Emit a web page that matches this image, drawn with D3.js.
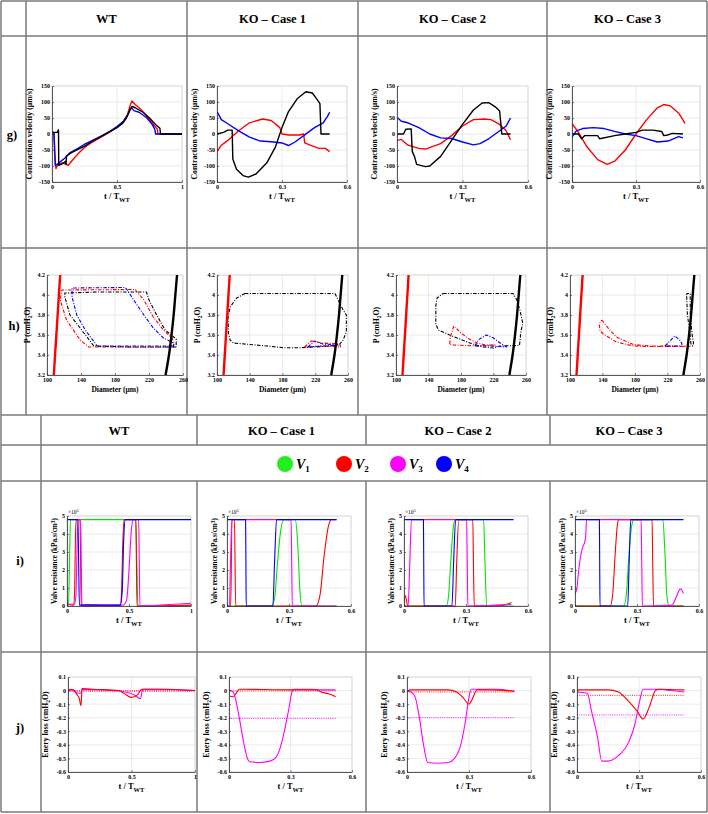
<!DOCTYPE html>
<html>
<head>
<meta charset="utf-8">
<script src="https://cdn.jsdelivr.net/npm/d3@7"></script>
<style>
  body { margin: 0; background: #fff; }
  text { font-family: "Liberation Serif", "Times New Roman", serif; font-weight: bold; }
</style>
</head>
<body>
<svg id="fig" width="708" height="814"></svg>
<script>
// ---------- labels / ticks ----------
var cases = ["WT", "KO – Case 1", "KO – Case 2", "KO – Case 3"];
var rowNames = ["g)", "h)", "i)", "j)"];
var valveNames = ["1", "2", "3", "4"];
var valveColors = ["#22ee22", "#ff0000", "#ff00ff", "#0000ff"];
var tTicksWT = [0, 0.5, 1];
var tTicksKO = [0, 0.3, 0.6];
var velTicks = [-150, -100, -50, 0, 50, 100, 150];
var diamTicks = [100, 140, 180, 220, 260];
var pTicks = [3.2, 3.4, 3.6, 3.8, 4, 4.2];
var resTicks = [0, 1, 2, 3, 4, 5];
var lossTicks = [-0.6, -0.5, -0.4, -0.3, -0.2, -0.1, 0, 0.1];

// ---------- g) contraction velocity (um/s) vs t/T_WT ----------
var velWT_red = [[0,0],[0.015,2],[0.02,-60],[0.03,-108],[0.04,-100],[0.05,-95],[0.08,-90],[0.1,-93],[0.125,-98],[0.15,-85],[0.2,-62],[0.25,-42],[0.3,-28],[0.35,-16],[0.4,-4],[0.45,8],[0.5,22],[0.55,40],[0.58,60],[0.6,88],[0.615,103],[0.64,92],[0.68,78],[0.72,60],[0.76,40],[0.8,20],[0.81,15],[0.815,0],[1,0]];
var velWT_blue = [[0,5],[0.015,5],[0.02,-40],[0.025,-98],[0.04,-95],[0.06,-88],[0.1,-75],[0.14,-58],[0.2,-45],[0.25,-32],[0.3,-22],[0.35,-12],[0.4,-2],[0.45,10],[0.5,23],[0.55,40],[0.58,58],[0.6,76],[0.61,82],[0.63,73],[0.67,68],[0.73,50],[0.77,30],[0.79,15],[0.797,0],[1,0]];
var velWT_black = [[0,5],[0.04,5],[0.05,13],[0.052,-98],[0.07,-95],[0.09,-90],[0.105,-85],[0.108,-95],[0.112,-68],[0.15,-58],[0.2,-48],[0.25,-38],[0.3,-25],[0.35,-14],[0.4,-3],[0.45,8],[0.5,20],[0.54,32],[0.57,48],[0.6,75],[0.615,86],[0.64,82],[0.7,68],[0.75,50],[0.8,28],[0.83,18],[0.835,0],[1,0]];

var velKO1_red = [[0,-55],[0.02,-35],[0.05,-20],[0.1,10],[0.15,35],[0.21,47],[0.25,42],[0.29,20],[0.3,0],[0.33,-3],[0.38,-3],[0.4,0],[0.405,-28],[0.43,-35],[0.47,-45],[0.5,-45],[0.52,-55]];
var velKO1_blue = [[0,70],[0.02,45],[0.05,32],[0.1,10],[0.15,-10],[0.2,-22],[0.25,-24],[0.3,-28],[0.33,-36],[0.36,-25],[0.4,-5],[0.45,20],[0.49,35],[0.51,55],[0.52,68]];
var velKO1_black = [[0,0],[0.03,5],[0.05,12],[0.07,12],[0.073,-78],[0.09,-110],[0.12,-130],[0.145,-135],[0.18,-125],[0.23,-90],[0.27,-40],[0.3,20],[0.33,70],[0.37,110],[0.41,132],[0.44,128],[0.46,110],[0.475,95],[0.48,0],[0.52,0]];

var velKO2_red = [[0,-20],[0.02,-17],[0.05,-35],[0.1,-45],[0.13,-47],[0.2,-30],[0.25,-5],[0.3,25],[0.35,45],[0.4,47],[0.43,45],[0.47,30],[0.5,10],[0.52,-18]];
var velKO2_blue = [[0,52],[0.02,40],[0.05,35],[0.1,20],[0.15,0],[0.2,-12],[0.25,-14],[0.3,-25],[0.35,-34],[0.38,-30],[0.42,-15],[0.45,0],[0.48,15],[0.5,25],[0.52,50]];
var velKO2_black = [[0,0],[0.03,0],[0.04,15],[0.065,16],[0.07,-55],[0.08,-70],[0.09,-95],[0.13,-102],[0.15,-100],[0.2,-70],[0.25,-20],[0.3,30],[0.35,75],[0.39,97],[0.42,98],[0.45,85],[0.47,72],[0.48,0],[0.52,0]];

var velKO3_red = [[0,33],[0.03,5],[0.07,-40],[0.12,-80],[0.165,-95],[0.2,-85],[0.25,-50],[0.3,0],[0.35,45],[0.4,82],[0.43,92],[0.46,88],[0.5,65],[0.53,33]];
var velKO3_blue = [[0,-10],[0.02,10],[0.05,17],[0.1,20],[0.15,17],[0.2,8],[0.25,0],[0.3,-5],[0.35,-15],[0.4,-25],[0.45,-22],[0.5,-8],[0.52,-12]];
var velKO3_black = [[0,0],[0.03,0],[0.045,-15],[0.06,-5],[0.12,-5],[0.13,-15],[0.2,-5],[0.25,0],[0.3,5],[0.33,12],[0.38,12],[0.42,8],[0.43,-5],[0.45,-3],[0.47,2],[0.52,0]];

// ---------- h) P (cmH2O) vs diameter (um) ----------
var isoRed = [[108,3.2],[115.5,4.2]];
var isoBlack = [[239.5,3.2],[243.5,3.4],[246.5,3.6],[249,3.8],[251,4.0],[253,4.2]];

var loopWT_black = [[252,3.48],[200,3.48],[155,3.49],[139,3.67],[127,3.8],[121,3.98],[121,4.02],[160,4.03],[217,4.03],[220,3.95],[229,3.8],[239,3.65],[249,3.58],[252,3.56],[252,3.48]];
var loopWT_red = [[249,3.48],[149,3.48],[139,3.55],[123,3.75],[115.5,3.95],[117.5,4.05],[204,4.055],[205,4.04],[214,3.95],[225,3.78],[237,3.65],[247,3.57],[249,3.53],[249,3.48]];
var loopWT_blue = [[249,3.49],[159,3.49],[145,3.65],[135,3.8],[129.5,3.98],[129.5,4.07],[192,4.075],[194,4.055],[202,3.95],[214,3.8],[225,3.67],[237,3.57],[249,3.52],[249,3.49]];

var loopKO1_black = [[134,4.015],[244,4.015],[248,3.95],[254,3.85],[258,3.8],[258,3.63],[254,3.55],[250,3.51],[242,3.49],[201,3.473],[181,3.473],[161,3.49],[120,3.52],[116,3.55],[114,3.62],[113.5,3.78],[116,3.88],[124,3.97],[134,4.015]];
var loopKO1_red = [[207,3.48],[215,3.54],[228,3.52],[250,3.51],[251,3.48],[230,3.49],[207,3.48]];
var loopKO1_blue = [[211,3.48],[219,3.54],[229,3.51],[248,3.5],[230,3.49],[211,3.48]];

var loopKO2_black = [[158,4.015],[244,4.015],[248.5,3.955],[252.5,3.85],[256,3.72],[253.5,3.62],[252,3.495],[228,3.49],[220,3.47],[207.5,3.48],[191,3.52],[166,3.6],[152,3.65],[149,3.71],[149,3.89],[150.5,3.97],[158,4.015]];
var loopKO2_red = [[166,3.51],[167,3.58],[171,3.69],[180,3.62],[190,3.56],[200,3.52],[210,3.5],[222,3.5],[200,3.49],[170,3.5],[166,3.51]];
var loopKO2_blue = [[197,3.49],[201,3.55],[211,3.6],[220,3.57],[228,3.52],[236,3.48],[215,3.49],[197,3.49]];

var loopKO3_black = [[243.5,4.0],[244,4.015],[248,4.015],[248,3.8],[250,3.62],[252,3.52],[251,3.49],[249,3.5],[247,3.66],[244.5,3.8],[243.5,4.0]];
var loopKO3_red = [[139,3.75],[148,3.66],[157,3.58],[178,3.505],[198,3.49],[248,3.487],[200,3.485],[178,3.49],[157,3.53],[141,3.61],[137,3.64],[136,3.71],[139,3.75]];
var loopKO3_blue = [[217,3.49],[223,3.54],[229,3.59],[235,3.55],[238,3.51],[235,3.49],[217,3.49]];

// ---------- i) valve resistance (x10^5 kPa.s/cm^3) ----------
var resWT_green = [[0,0],[0.012,0],[0.02,2.4],[0.028,4.8],[0.555,4.8],[0.563,2.4],[0.572,0],[1,0]];
var resWT_red = [[0,0.1],[0.055,0.05],[0.062,1],[0.068,3.8],[0.075,4.8],[0.105,4.8],[0.11,2.4],[0.115,0],[0.43,0.02],[0.44,0.8],[0.45,3.5],[0.46,4.8],[0.555,4.8],[0.56,2.4],[0.565,0],[1,0.05]];
var resWT_magenta = [[0,0.25],[0.01,0.1],[0.06,0.1],[0.072,0.6],[0.082,3.5],[0.09,4.8],[0.11,4.8],[0.115,2.4],[0.12,0.1],[0.45,0.05],[0.48,0.3],[0.5,2],[0.52,4.3],[0.535,4.8],[0.578,4.8],[0.583,2.4],[0.588,0],[0.7,0.03],[1,0.15]];
var resWT_blue = [[0,4.8],[0.088,4.8],[0.094,2.4],[0.1,0.05],[0.43,0.05],[0.445,0.8],[0.458,3.8],[0.47,4.8],[1,4.8]];

var resKO1_green = [[0,0],[0.215,0],[0.23,0.4],[0.245,2.5],[0.26,4.2],[0.275,4.8],[0.33,4.8],[0.342,3.5],[0.352,1],[0.362,0],[0.53,0]];
var resKO1_red = [[0,0],[0.018,0],[0.024,4.8],[0.036,4.8],[0.042,0],[0.43,0],[0.45,0.6],[0.47,2.8],[0.49,4.4],[0.505,4.8],[0.53,4.8]];
var resKO1_magenta = [[0,0],[0.012,0],[0.016,2],[0.024,4.8],[0.31,4.8],[0.313,2.4],[0.316,0],[0.53,0]];
var resKO1_blue = [[0,4.8],[0.09,4.8],[0.0915,2.4],[0.093,0],[0.222,0],[0.23,2.4],[0.24,4.8],[0.53,4.8]];

var resKO2_green = [[0,0],[0.205,0],[0.215,0.5],[0.228,2.8],[0.24,4.5],[0.25,4.8],[0.385,4.8],[0.392,2.4],[0.4,0],[0.53,0]];
var resKO2_red = [[0,0.2],[0.006,0.6],[0.012,0.3],[0.018,0],[0.248,0],[0.255,2.4],[0.265,4.8],[0.333,4.8],[0.336,2.4],[0.34,0],[0.48,0.05],[0.52,0.2]];
var resKO2_magenta = [[0,0],[0.02,0],[0.027,2],[0.036,4.8],[0.303,4.8],[0.306,2.4],[0.309,0],[0.45,0.05],[0.52,0.1]];
var resKO2_blue = [[0,4.8],[0.094,4.8],[0.0955,2.4],[0.097,0],[0.232,0],[0.24,2.4],[0.25,4.8],[0.53,4.8]];

var resKO3_green = [[0,0],[0.235,0],[0.248,0.6],[0.262,3],[0.275,4.5],[0.285,4.8],[0.425,4.8],[0.435,3],[0.445,0.5],[0.455,0],[0.525,0]];
var resKO3_red = [[0,0],[0.17,0],[0.182,0.6],[0.195,3],[0.205,4.5],[0.212,4.8],[0.373,4.8],[0.376,2.4],[0.38,0],[0.525,0]];
var resKO3_magenta = [[0,0.7],[0.008,0.9],[0.018,2],[0.025,2.6],[0.035,3.2],[0.048,3.6],[0.052,3.9],[0.056,4.8],[0.32,4.8],[0.323,2.4],[0.326,0],[0.47,0.05],[0.49,0.5],[0.51,0.95],[0.525,0.7]];
var resKO3_blue = [[0,4.8],[0.118,4.8],[0.1195,2.4],[0.121,0],[0.255,0],[0.262,2.4],[0.27,4.8],[0.525,4.8]];

// ---------- j) energy loss (cmH2O) ----------
var lossWT_red = [[0,0],[0.02,0.01],[0.04,0.005],[0.07,-0.03],[0.09,-0.06],[0.1,-0.11],[0.105,-0.08],[0.11,0.015],[0.2,0.01],[0.4,0],[0.44,-0.02],[0.5,-0.05],[0.55,-0.03],[0.58,0.01],[0.7,0.01],[1,0]];
var lossWT_magenta = [[0,0],[0.04,0.005],[0.08,-0.02],[0.1,-0.02],[0.11,0.01],[0.3,0.005],[0.45,-0.01],[0.52,-0.03],[0.57,-0.06],[0.59,0.01],[0.75,0.01],[1,0]];
var lossKO1_red = [[0,-0.04],[0.02,-0.045],[0.035,-0.02],[0.05,0.01],[0.3,0.005],[0.42,0.005],[0.46,-0.015],[0.5,-0.03],[0.52,-0.045]];
var lossKO1_magenta = [[0,0.005],[0.02,-0.01],[0.03,-0.05],[0.05,-0.2],[0.07,-0.37],[0.09,-0.5],[0.1,-0.525],[0.15,-0.53],[0.2,-0.52],[0.23,-0.49],[0.25,-0.42],[0.27,-0.3],[0.29,-0.15],[0.31,0],[0.32,0.01],[0.4,0.01],[0.45,0.005],[0.52,0.005]];
var lossKO2_red = [[0,-0.005],[0.02,0.005],[0.2,0.005],[0.24,-0.01],[0.27,-0.05],[0.3,-0.1],[0.31,-0.08],[0.34,0.005],[0.4,0.005],[0.52,-0.005]];
var lossKO2_magenta = [[0,0],[0.02,-0.01],[0.04,-0.05],[0.06,-0.2],[0.08,-0.4],[0.1,-0.53],[0.15,-0.535],[0.2,-0.53],[0.23,-0.5],[0.26,-0.4],[0.28,-0.25],[0.3,-0.05],[0.31,0.01],[0.43,0.01],[0.52,-0.005]];
var lossKO3_red = [[0,0.005],[0.15,0.005],[0.2,-0.01],[0.25,-0.08],[0.29,-0.15],[0.32,-0.21],[0.35,-0.12],[0.38,0],[0.4,0.01],[0.52,0.005]];
var lossKO3_magenta = [[0,-0.01],[0.03,-0.015],[0.05,-0.02],[0.07,-0.15],[0.1,-0.35],[0.12,-0.52],[0.15,-0.52],[0.2,-0.48],[0.25,-0.38],[0.28,-0.25],[0.3,-0.1],[0.32,0.01],[0.4,0.01],[0.45,0],[0.52,-0.01]];
// mean loss levels (dotted): [red, magenta]
var lossMeanWT = [-0.003, -0.003];
var lossMeanKO1 = [-0.003, -0.205];
var lossMeanKO2 = [-0.01, -0.2];
var lossMeanKO3 = [-0.035, -0.18];

// ---------- drawing ----------
var svg = d3.select("#fig");
var clipN = 0;
var fmt = function(d) { return String(d); };

function drawPanel(p) {
  var x = d3.scaleLinear().domain(p.xDomain).range([p.left, p.right]);
  var y = d3.scaleLinear().domain(p.yDomain).range([p.bottom, p.top]);
  var g = svg.append("g");

  // grid
  g.selectAll(null).data(p.xTicks).enter().append("line")
    .attr("x1", d => x(d)).attr("x2", d => x(d))
    .attr("y1", p.top).attr("y2", p.bottom)
    .attr("stroke", "#dddddd").attr("stroke-width", 0.6);
  g.selectAll(null).data(p.yTicks).enter().append("line")
    .attr("x1", p.left).attr("x2", p.right)
    .attr("y1", d => y(d)).attr("y2", d => y(d))
    .attr("stroke", "#dddddd").attr("stroke-width", 0.6);
  g.append("rect")
    .attr("x", p.left).attr("y", p.top)
    .attr("width", p.right - p.left).attr("height", p.bottom - p.top)
    .attr("fill", "none").attr("stroke", "#cccccc").attr("stroke-width", 0.6);

  // curves, clipped to the axes box
  var id = "clip" + (clipN++);
  svg.append("clipPath").attr("id", id).append("rect")
    .attr("x", p.left).attr("y", p.top - 1)
    .attr("width", p.right - p.left + 1).attr("height", p.bottom - p.top + 2);
  var lines = g.append("g").attr("clip-path", "url(#" + id + ")");
  p.series.forEach(function(s) {
    var gen = d3.line()
      .curve(s.curve || d3.curveLinear)
      .x(d => x(d[0])).y(d => y(d[1]));
    lines.append("path").datum(s.data)
      .attr("fill", "none")
      .attr("stroke", s.color)
      .attr("stroke-width", s.width || 1.2)
      .attr("stroke-dasharray", s.dash || null)
      .attr("stroke-linejoin", "round")
      .attr("d", gen);
  });

  // axes
  var xa = g.append("g").attr("transform", "translate(0," + p.bottom + ")")
    .call(d3.axisBottom(x).tickValues(p.xTicks).tickFormat(fmt)
      .tickSizeInner(-2).tickSizeOuter(0).tickPadding(3));
  var ya = g.append("g").attr("transform", "translate(" + p.left + ",0)")
    .call(d3.axisLeft(y).tickValues(p.yTicks).tickFormat(fmt)
      .tickSizeInner(-2).tickSizeOuter(0).tickPadding(2));
  [xa, ya].forEach(function(a) {
    a.selectAll("text").attr("fill", "#000")
      .style("font-family", '"Liberation Serif","Times New Roman",serif')
      .style("font-weight", "bold").style("font-size", "6px");
    a.select(".domain").attr("stroke", "#333").attr("stroke-width", 0.8);
    a.selectAll(".tick line").attr("stroke", "#333").attr("stroke-width", 0.6);
  });

  // x label
  var xl = svg.append("text")
    .attr("x", (p.left + p.right) / 2).attr("y", p.bottom + 17)
    .attr("text-anchor", "middle").style("font-size", p.xFont || "8.5px");
  p.xLabel(xl);

  // y label
  var yl = svg.append("text")
    .attr("transform", "translate(" + (p.left - p.yOff) + "," + ((p.top + p.bottom) / 2) + ") rotate(-90)")
    .attr("text-anchor", "middle").style("font-size", p.yFont || "7.8px");
  p.yLabel(yl);

  if (p.exponent) {
    var ex = svg.append("text").attr("x", p.left + 1).attr("y", p.top - 2)
      .style("font-size", "5.5px").style("font-weight", "normal").text("×10");
    ex.append("tspan").attr("dy", -2).style("font-size", "4.5px").text("5");
  }
}

function tLabel(t) {
  t.text("t / T");
  t.append("tspan").attr("dy", 2.5).style("font-size", "6.5px").text("WT");
}
function velLabel(t) { t.text("Contraction velocity (μm/s)"); }
function diamLabel(t) { t.text("Diameter (μm)"); }
function pLabel(t) {
  t.text("P (cmH");
  t.append("tspan").attr("dy", 2).style("font-size", "5.5px").text("2");
  t.append("tspan").attr("dy", -2).text("O)");
}
function resLabel(t) {
  t.text("Valve resistance (kPa.s/cm");
  t.append("tspan").attr("dy", -2.5).style("font-size", "5.5px").text("3");
  t.append("tspan").attr("dy", 2.5).text(")");
}
function lossLabel(t) {
  t.text("Enery loss (cmH");
  t.append("tspan").attr("dy", 2).style("font-size", "5.5px").text("2");
  t.append("tspan").attr("dy", -2).text("O)");
}

// ---------- tables ----------
var gridColor = "#7a7a7a";
function hline(y, x1, x2) {
  svg.append("line").attr("x1", x1).attr("x2", x2).attr("y1", y).attr("y2", y)
    .attr("stroke", gridColor).attr("stroke-width", 1.5);
}
function vline(x, y1, y2) {
  svg.append("line").attr("x1", x).attr("x2", x).attr("y1", y1).attr("y2", y2)
    .attr("stroke", gridColor).attr("stroke-width", 1.5);
}
// top table
[1, 36, 248, 415].forEach(y => hline(y, 1, 707));
[1, 26, 187, 358, 547, 707].forEach(x => vline(x, 1, 415));
// bottom table
[445, 481, 652, 812].forEach(y => hline(y, 1, 707));
[1, 41, 707].forEach(x => vline(x, 415, 812));
[197, 366, 550].forEach(x => { vline(x, 415, 445); vline(x, 481, 812); });

var head1 = [106.5, 272.5, 452.5, 627.5];
var head2 = [119, 281.5, 458, 629];
cases.forEach(function(c, i) {
  svg.append("text").attr("x", head1[i]).attr("y", 23).attr("text-anchor", "middle")
    .style("font-size", "12.5px").text(c);
  svg.append("text").attr("x", head2[i]).attr("y", 435).attr("text-anchor", "middle")
    .style("font-size", "12.5px").text(c);
});

var rowLabelPos = [[12, 139], [14, 330], [20, 565], [20, 732]];
rowNames.forEach(function(r, i) {
  svg.append("text").attr("x", rowLabelPos[i][0]).attr("y", rowLabelPos[i][1])
    .attr("text-anchor", "middle").style("font-size", "12.5px").text(r);
});

// legend
var legendX = [285, 344, 398, 444];
valveNames.forEach(function(v, i) {
  svg.append("circle").attr("cx", legendX[i]).attr("cy", 464).attr("r", 8)
    .attr("fill", valveColors[i]);
  var t = svg.append("text").attr("x", legendX[i] + 11).attr("y", 469)
    .style("font-size", "14px").style("font-style", "italic").text("V");
  t.append("tspan").attr("dy", 3).style("font-size", "9px").style("font-style", "normal").text(v);
});

// ---------- panels ----------
var colsG = [[52, 182], [217, 347], [397, 528], [572, 700]];
var colsH = [[47, 183], [217, 348], [396, 526], [570, 700]];
var colsI = [[67, 191], [227, 351], [404, 528], [575, 699]];
var colsJ = [[68, 195], [229, 352], [407, 531], [577, 701]];

// series per column, in draw order: red, blue, black
var velSets = [
  [velWT_red, velWT_blue, velWT_black],
  [velKO1_red, velKO1_blue, velKO1_black],
  [velKO2_red, velKO2_blue, velKO2_black],
  [velKO3_red, velKO3_blue, velKO3_black]
];
var velColors = ["#ff0000", "#0000ff", "#000"];
colsG.forEach(function(c, i) {
  var series = velSets[i].map((d, k) => ({ data: d, color: velColors[k], width: 1.4 }));
  drawPanel({
    left: c[0], right: c[1], top: 86, bottom: 182,
    xDomain: i === 0 ? [0, 1] : [0, 0.6], yDomain: [-150, 150],
    xTicks: i === 0 ? tTicksWT : tTicksKO, yTicks: velTicks,
    series: series, xLabel: tLabel, yLabel: velLabel, yOff: 20
  });
});

var loopSets = [
  [loopWT_red, loopWT_black, loopWT_blue],
  [loopKO1_black, loopKO1_red, loopKO1_blue],
  [loopKO2_black, loopKO2_red, loopKO2_blue],
  [loopKO3_black, loopKO3_red, loopKO3_blue]
];
var loopColors = [["#ff0000", "#000", "#0000ff"], ["#000", "#ff0000", "#0000ff"],
                  ["#000", "#ff0000", "#0000ff"], ["#000", "#ff0000", "#0000ff"]];
colsH.forEach(function(c, i) {
  var series = loopSets[i].map((d, k) => ({ data: d, color: loopColors[i][k], width: 1.1, dash: "3.5,1.5,1,1.5" }));
  series.push({ data: isoRed, color: "#ff0000", width: 2.4 });
  series.push({ data: isoBlack, color: "#000", width: 2.4, curve: d3.curveMonotoneY });
  drawPanel({
    left: c[0], right: c[1], top: 275, bottom: 375,
    xDomain: [100, 260], yDomain: [3.2, 4.2],
    xTicks: diamTicks, yTicks: pTicks,
    series: series, xLabel: diamLabel, xFont: "7.5px", yLabel: pLabel, yOff: 17
  });
});

var resSets = [
  [resWT_green, resWT_red, resWT_magenta, resWT_blue],
  [resKO1_green, resKO1_red, resKO1_magenta, resKO1_blue],
  [resKO2_green, resKO2_red, resKO2_magenta, resKO2_blue],
  [resKO3_green, resKO3_red, resKO3_magenta, resKO3_blue]
];
var lineColors = ["#00e600", "#ff0000", "#ff00ff", "#0000ff"];
colsI.forEach(function(c, i) {
  var series = resSets[i].map((d, k) => ({ data: d, color: lineColors[k], width: 1.1, curve: d3.curveMonotoneX }));
  drawPanel({
    left: c[0], right: c[1], top: 516, bottom: 606,
    xDomain: i === 0 ? [0, 1] : [0, 0.6], yDomain: [0, 5],
    xTicks: i === 0 ? tTicksWT : tTicksKO, yTicks: resTicks,
    series: series, xLabel: tLabel, yLabel: resLabel, yOff: 10, yFont: "7.2px", exponent: true
  });
});

var lossSets = [
  [lossWT_red, lossWT_magenta, lossMeanWT, 1],
  [lossKO1_red, lossKO1_magenta, lossMeanKO1, 0.52],
  [lossKO2_red, lossKO2_magenta, lossMeanKO2, 0.52],
  [lossKO3_red, lossKO3_magenta, lossMeanKO3, 0.52]
];
colsJ.forEach(function(c, i) {
  var s = lossSets[i];
  var series = [
    { data: [[0, s[2][1]], [s[3], s[2][1]]], color: "#ff00ff", width: 0.9, dash: "1,1.2" },
    { data: [[0, s[2][0]], [s[3], s[2][0]]], color: "#ff0000", width: 0.9, dash: "1,1.2" },
    { data: s[1], color: "#ff00ff", width: 1.1, curve: d3.curveMonotoneX },
    { data: s[0], color: "#ff0000", width: 1.1, curve: d3.curveMonotoneX }
  ];
  drawPanel({
    left: c[0], right: c[1], top: 677, bottom: 772,
    xDomain: i === 0 ? [0, 1] : [0, 0.6], yDomain: [-0.6, 0.1],
    xTicks: i === 0 ? tTicksWT : tTicksKO, yTicks: lossTicks,
    series: series, xLabel: tLabel, yLabel: lossLabel, yOff: 20
  });
});
</script>
</body>
</html>
